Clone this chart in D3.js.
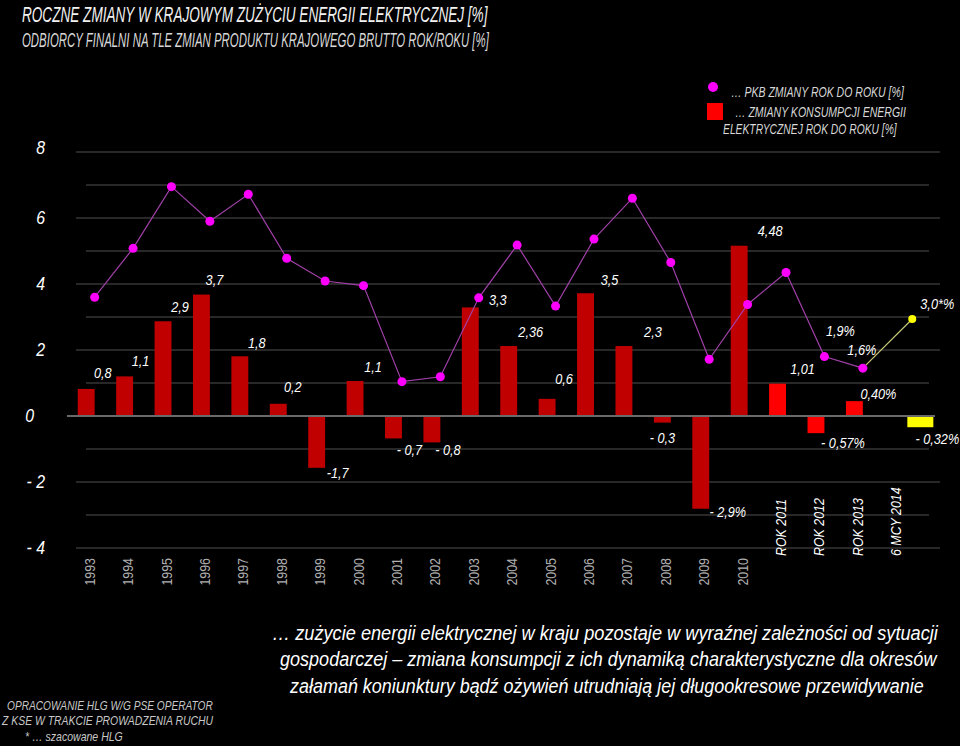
<!DOCTYPE html>
<html>
<head>
<meta charset="utf-8">
<script src="https://cdn.jsdelivr.net/npm/d3@7"></script>
<style>
html,body{margin:0;padding:0;background:#000;}
svg{display:block;}
text{font-family:"Liberation Sans Narrow","Arial Narrow","Liberation Sans",Arial,sans-serif;}
</style>
</head>
<body>
<svg id="chart" width="960" height="746"></svg>
<script>
// ---- DATA ----
const categories = ["1993","1994","1995","1996","1997","1998","1999","2000","2001","2002","2003","2004","2005","2006","2007","2008","2009","2010","ROK 2011","ROK 2012","ROK 2013","6 MCY 2014"];
const energyChange = [0.82,1.2,2.87,3.68,1.81,0.37,-1.57,1.06,-0.68,-0.8,3.29,2.12,0.52,3.72,2.12,-0.2,-2.81,5.16,0.98,-0.52,0.45,-0.34];
const gdpChange = [3.6,5.08,6.95,5.9,6.72,4.78,4.09,3.95,1.04,1.19,3.58,5.18,3.33,5.36,6.6,4.65,1.72,3.38,4.35,1.8,1.45,2.94];
const energyLabels = ["0,8","1,1","2,9","3,7","1,8","0,2","-1,7","1,1","- 0,7","- 0,8","3,3","2,36","0,6","3,5","2,3","- 0,3","- 2,9%","4,48","1,01","- 0,57%","0,40%","- 0,32%"];
const gdpLabels = [null,null,null,null,null,null,null,null,null,null,null,null,null,null,null,null,null,null,null,"1,9%","1,6%","3,0*%"];
const yTickValues = [8,6,4,2,0,-2,-4];
const yTickLabels = ["8","6","4","2","0","- 2","- 4"];
const seriesGroup = ["hist","hist","hist","hist","hist","hist","hist","hist","hist","hist","hist","hist","hist","hist","hist","hist","hist","hist","recent","recent","recent","estimate"];

const titleText = "ROCZNE ZMIANY W  KRAJOWYM ZUŻYCIU ENERGII ELEKTRYCZNEJ  [%]";
const subtitleText = "ODBIORCY FINALNI NA TLE ZMIAN  PRODUKTU KRAJOWEGO BRUTTO ROK/ROKU [%]";
const legendTexts = ["… PKB  ZMIANY ROK DO ROKU [%]", "…  ZMIANY KONSUMPCJI ENERGII", "ELEKTRYCZNEJ ROK DO ROKU [%]"];
const noteLines = ["… zużycie energii elektrycznej w kraju pozostaje w wyraźnej zależności od sytuacji",
  "gospodarczej – zmiana konsumpcji z ich dynamiką charakterystyczne dla okresów",
  "załamań koniunktury bądź ożywień utrudniają jej długookresowe przewidywanie"];
const sourceLines = ["OPRACOWANIE HLG W/G PSE OPERATOR", "Z KSE W TRAKCIE  PROWADZENIA RUCHU", "* …   szacowane HLG"];

// ---- LAYOUT (not data) ----
const labelOffsets = [[16.5,-16],[16,-16],[17,-15],[13,-15],[17,-14],[14.5,-17],[21,5],[18,-14],[16,11],[16,7],[27.5,-8],[22,-15],[17,-20],[24,-14],[29,-15],[0,15],[27,3],[31,-15],[25,-15],[27,9],[24,-8],[17,11]];
const gdpLabelOffsets = {19:[16,-26],20:[-1,-19],21:[25,-15]};
const barColor = {hist:"#c00000", recent:"#ff0000", estimate:"#ffff00"};
const lastShift = 23, lastWidth = 26, lastPointShift = 11;

const svg = d3.select("#chart");
svg.append("rect").attr("width",960).attr("height",746).attr("fill","#000");

// narrow-text helper: horizontal squeeze via transform, optionally fitted to a target width
function addText(parent, o) {
  const t = parent.append("text")
    .attr("x",0).attr("y",0)
    .attr("text-anchor", o.anchor || "start")
    .attr("dominant-baseline","central")
    .attr("font-size", o.size)
    .attr("font-style", o.italic === false ? "normal" : "italic")
    .attr("fill", o.fill || "#fff")
    .text(o.text);
  let s = o.sx || 0.82;
  if (o.width) { s = o.width / t.node().getComputedTextLength(); }
  t.attr("transform", `translate(${o.x},${o.y}) rotate(${o.rotate || 0}) scale(${s},1)`);
  return t;
}

const x = d3.scaleBand().domain(categories).range([67,912]).paddingInner(0.56).paddingOuter(0.28);
const y = d3.scaleLinear().domain([-4,8]).range([548,152]);
const n = categories.length;
const isLast = i => i === n-1;
const barX = (c,i) => x(c) + (isLast(i) ? lastShift : 0);
const barW = i => isLast(i) ? lastWidth : x.bandwidth();
const barCx = (c,i) => barX(c,i) + barW(i)/2;
const ptX = (c,i) => x(c) + x.bandwidth() + (isLast(i) ? lastPointShift : 0);

// gridlines
const gridVals = d3.range(-4, 9, 1).filter(v => v !== 0);
svg.append("g").selectAll("line").data(gridVals).join("line")
  .attr("x1", v => v % 2 === 0 ? 76 : 86)
  .attr("x2", v => v % 2 === 0 ? 940 : 929)
  .attr("y1", v => y(v)).attr("y2", v => y(v))
  .attr("stroke","#363636").attr("stroke-width",1.5);

// y tick labels
const gy = svg.append("g");
yTickValues.forEach((v,i) => addText(gy, {x: v === 0 ? 34 : 45, y: y(v) - (v === 8 ? 4 : 0), text: yTickLabels[i], size: 18.5, anchor: "end", sx: 0.86}));

// bars
svg.append("g").selectAll("rect").data(categories).join("rect")
  .attr("x", (c,i) => barX(c,i))
  .attr("width", (c,i) => barW(i))
  .attr("y", (c,i) => y(Math.max(0, energyChange[i])))
  .attr("height", (c,i) => Math.abs(y(energyChange[i]) - y(0)))
  .attr("fill", (c,i) => barColor[seriesGroup[i]]);

// zero line
svg.append("line").attr("x1",67).attr("x2",935).attr("y1",y(0)).attr("y2",y(0))
  .attr("stroke","#6a6a6a").attr("stroke-width",2);

// GDP line
const pts = categories.map((c,i) => [ptX(c,i), y(gdpChange[i])]);
svg.append("path").attr("d", d3.line()(pts.slice(0, n-1)))
  .attr("fill","none").attr("stroke","#a040a8").attr("stroke-width",1.2);
svg.append("path").attr("d", d3.line()(pts.slice(n-2)))
  .attr("fill","none").attr("stroke","#c8c878").attr("stroke-width",1.2);
svg.append("g").selectAll("circle").data(pts).join("circle")
  .attr("cx", d => d[0]).attr("cy", d => d[1]).attr("r", (d,i) => isLast(i) ? 4 : 4.5)
  .attr("fill", (d,i) => isLast(i) ? "#ffff00" : "#ff00ff");

// bar value labels
const gl = svg.append("g");
categories.forEach((c,i) => addText(gl, {
  x: barCx(c,i) + labelOffsets[i][0], y: y(energyChange[i]) + labelOffsets[i][1],
  text: energyLabels[i], size: 15.5, anchor: "middle", sx: 0.82}));

// GDP labels
categories.forEach((c,i) => {
  if (!gdpLabels[i]) return;
  addText(gl, {x: pts[i][0] + gdpLabelOffsets[i][0], y: pts[i][1] + gdpLabelOffsets[i][1],
    text: gdpLabels[i], size: 15.5, anchor: "middle", sx: 0.82});
});

// x category labels
const gx = svg.append("g");
categories.forEach((c,i) => {
  const hist = seriesGroup[i] === "hist";
  addText(gx, {x: x(c) + x.bandwidth()/2 + 3, y: hist ? 558 : 556, rotate: -90,
    text: c, size: 15.5, anchor: hist ? "end" : "start", italic: !hist,
    fill: hist ? "#b0b0b0" : "#ffffff", sx: 0.8});
});

// titles
const gt = svg.append("g");
addText(gt, {x:22, y:14, text:titleText, size:22, fill:"#f2f2f2", width:466});
addText(gt, {x:22, y:40, text:subtitleText, size:19.5, fill:"#d8d8d8", width:467});

// legend
svg.append("circle").attr("cx",713).attr("cy",87).attr("r",5).attr("fill","#ff00ff");
svg.append("rect").attr("x",707).attr("y",103).attr("width",16).attr("height",17).attr("fill","#ff0000");
const legPos = [[731,92,173],[735,112.5,171],[723,129,174]];
legendTexts.forEach((t,i) => addText(gt, {x:legPos[i][0], y:legPos[i][1], text:t, size:14, fill:"#d8d8d8", width:legPos[i][2]}));

// note
const notePos = [[272,633,666],[280,659,657],[290,686,634]];
noteLines.forEach((t,i) => addText(gt, {x:notePos[i][0], y:notePos[i][1], text:t, size:20, fill:"#ffffff", width:notePos[i][2]}));

// source
const srcPos = [[7,706,206],[2,721,211],[25,737,98]];
sourceLines.forEach((t,i) => addText(gt, {x:srcPos[i][0], y:srcPos[i][1], text:t, size:12.5, fill:"#c8c8c8", width:srcPos[i][2]}));
</script>
</body>
</html>
